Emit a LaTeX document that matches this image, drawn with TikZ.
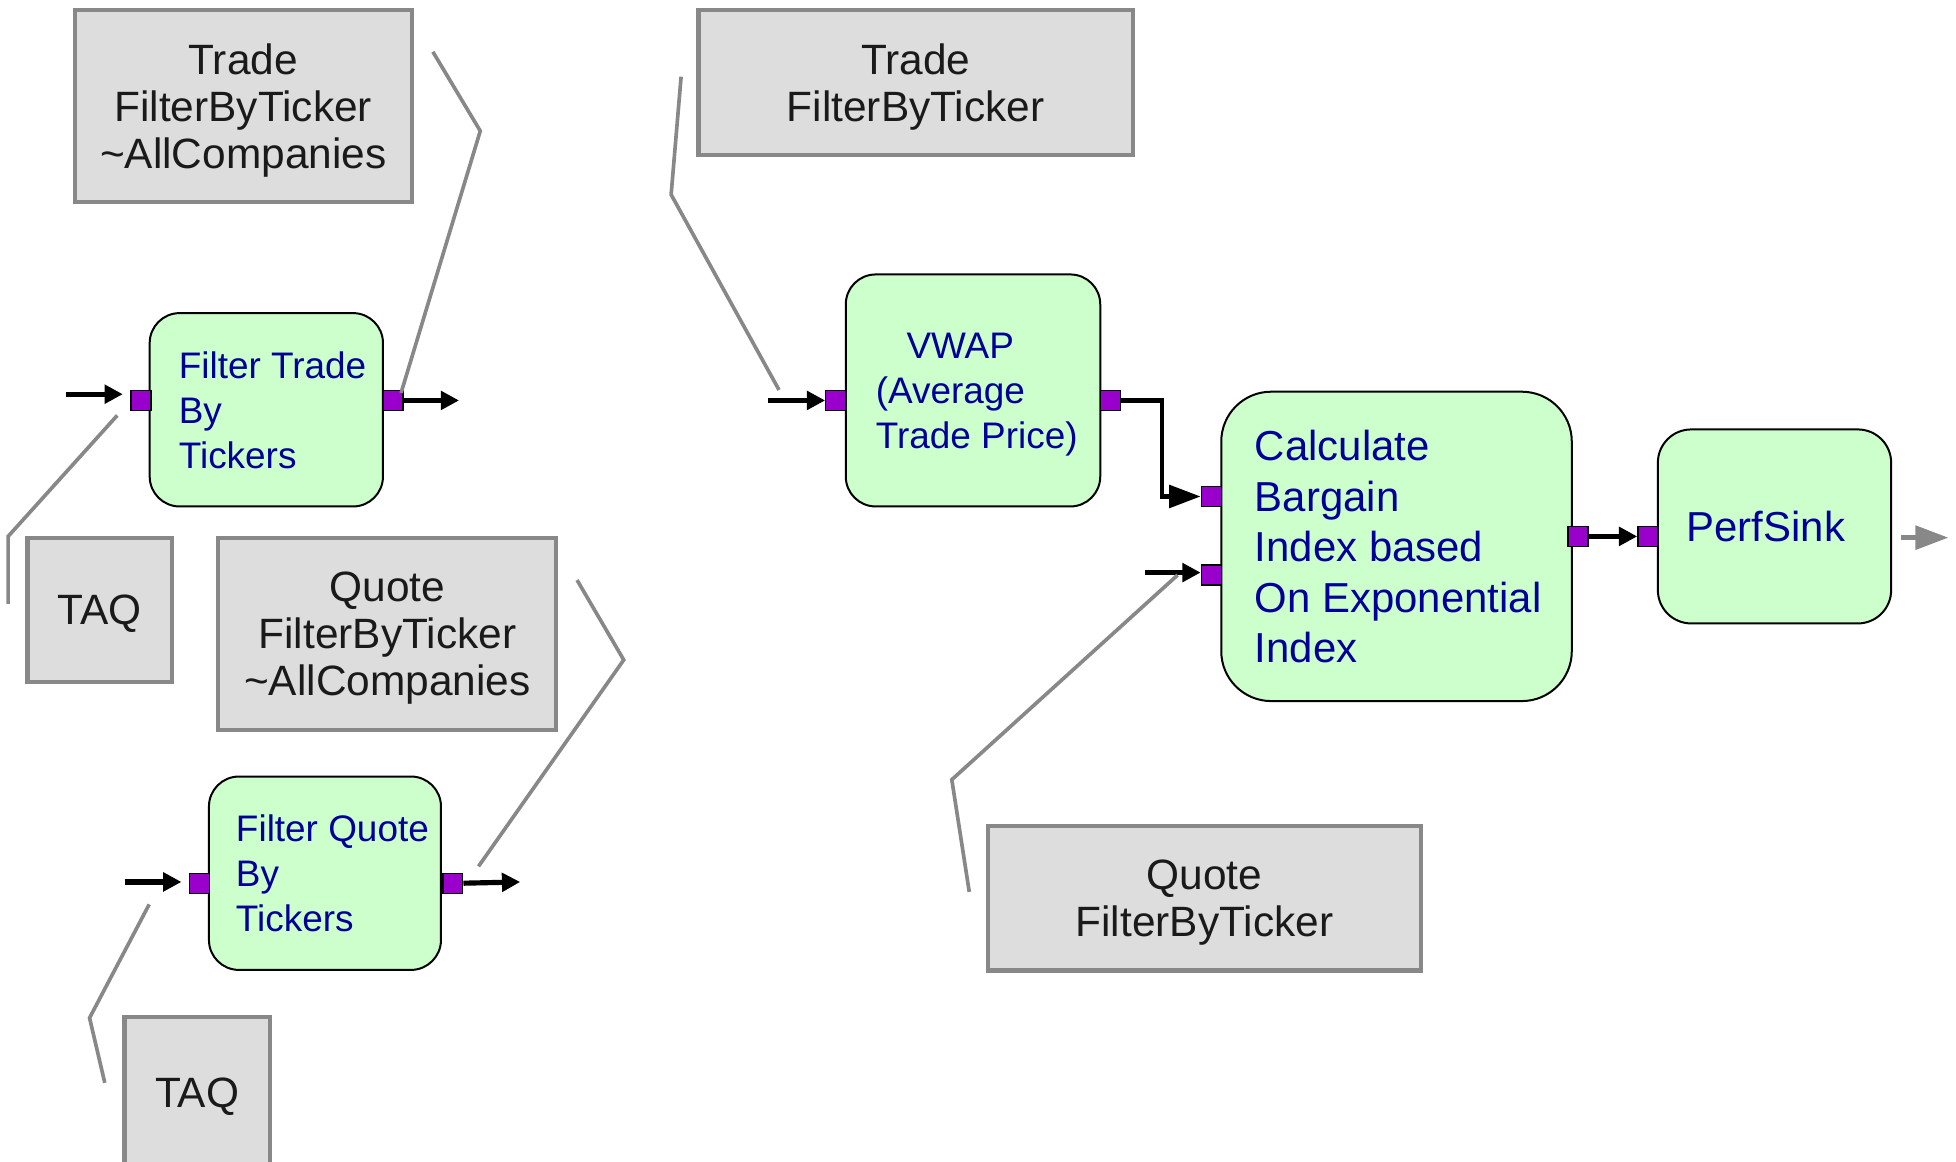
\documentclass[tikz,border=0pt]{standalone}
\usepackage{fontspec}
\setmainfont{Liberation Sans}
\usetikzlibrary{arrows.meta,calc}
\definecolor{boxgray}{HTML}{DDDDDD}
\definecolor{edgegray}{HTML}{888888}
\definecolor{opgreen}{HTML}{CCFFCC}
\definecolor{opblue}{HTML}{000099}
\definecolor{portpurple}{HTML}{9900CC}
\definecolor{inkdark}{HTML}{1A1A1A}
\tikzset{
  wh/.style 2 args={minimum width=#1*0.75pt, minimum height=#2*0.75pt},
  graybox/.style={draw=edgegray, line width=2.5pt, fill=boxgray, text=inkdark,
    align=center, font=\fontsize{25.5}{28.1}\selectfont, text depth=0pt, inner sep=0pt},
  opbox/.style={draw=black, line width=1.2pt, fill=opgreen, rounded corners=18pt,
    text=opblue, align=left, text depth=0pt, inner sep=0pt},
  opsmall/.style={font=\fontsize{22.2}{27}\selectfont, text depth=-2.4pt},
  oplarge/.style={font=\fontsize{25.2}{30.4}\selectfont},
  port/.style={draw=black, line width=0.8pt, fill=portpurple, minimum size=12pt, inner sep=0pt},
  flow/.style={line width=3.1pt, -{Triangle[length=11pt,width=11pt]}},
  bigflow/.style={line width=2.8pt, -{Triangle[length=19pt,width=13.5pt]}},
  sinkflow/.style={draw=edgegray, line width=3.2pt, -{Triangle[length=20pt,width=14pt]}},
  callout/.style={draw=edgegray, line width=2.2pt},
}
% indentation that moves a left-aligned text block inside its box
\newcommand{\indl}[1]{\hspace*{#1}}
\begin{document}
\begin{tikzpicture}[x=0.75pt, y=-0.75pt]
\useasboundingbox (0,0) rectangle (1568,931);

% stream descriptions
\node[graybox, wh={270}{154}] (tradeAll) at (195,85) {Trade\\FilterByTicker\\\textasciitilde AllCompanies};
\node[graybox, wh={116}{116}] (taqA) at (80,489) {TAQ};
\node[graybox, wh={271}{154}] (quoteAll) at (310.5,508) {Quote\\FilterByTicker\\\textasciitilde AllCompanies};
\node[graybox, wh={116.5}{122}] (taqB) at (158,876) {TAQ};
\node[graybox, wh={348}{116.5}] (tradeOne) at (734,66) {Trade\\FilterByTicker};
\node[graybox, wh={347}{116}] (quoteOne) at (965.5,720) {Quote\\FilterByTicker};

% operators
\node[opbox, opsmall, wh={187}{155}] (ft) at (213.5,328.5)
  {\indl{7.5pt}Filter Trade\\\indl{7.5pt}By\\\indl{7.5pt}Tickers};
\node[opbox, opsmall, wh={186}{155}] (fq) at (260.5,700)
  {\indl{9pt}Filter Quote\\\indl{9pt}By\\\indl{9pt}Tickers};
\node[opbox, opsmall, wh={204}{186}] (vwap) at (780,313)
  {\indl{4.5pt}\hspace*{0.83em}VWAP\\\indl{4.5pt}(Average\\\indl{4.5pt}Trade Price)};
\node[opbox, oplarge, wh={281}{248}, rounded corners=30pt] (calc) at (1119.5,438)
  {\indl{2pt}Calculate\\\indl{2pt}Bargain\\\indl{2pt}Index based\\\indl{2pt}On Exponential\\\indl{2pt}Index};
\node[opbox, oplarge, wh={187}{155.5}, rounded corners=20pt] (perf) at (1422.5,422)
  {PerfSink\indl{10.5pt}};

% free ends of the stream arrows
\coordinate (ftSrc) at (53,316);
\coordinate (ftDst) at (368,321);
\coordinate (fqSrc) at (100,707);
\coordinate (fqDst) at (417,707);
\coordinate (vwapSrc) at (616,321);
\coordinate (calcSrc) at (918,459);
\coordinate (sinkFrom) at (1524,431);
\coordinate (sinkTo) at (1562,431);

% ports
\node[port] (ftIn) at (113,321) {};
\node[port] (ftOut) at (315,321) {};
\node[port] (fqIn) at (160,708) {};
\node[port] (fqOut) at (363,708) {};
\node[port] (vwapIn) at (670,321) {};
\node[port] (vwapOut) at (890,321) {};
\node[port] (calcInA) at (971,398) {};
\node[port] (calcInB) at (971,461) {};
\node[port] (calcOut) at (1265,430) {};
\node[port] (perfIn) at (1321,430) {};

% streams
\draw[flow, shorten >=4.5pt] (ftSrc) -- (ftSrc -| ftIn.west);
\draw[flow] (ftOut.east) -- (ftDst);
\draw[flow, shorten >=4.5pt] (fqSrc) -- (fqSrc -| fqIn.west);
\draw[flow] (fqOut.east) -- (fqDst);
\draw[flow] (vwapSrc) -- (vwapIn.west);
\draw[bigflow] (vwapOut.east) -- ++(33,0) |- (calcInA.west);
\draw[flow] (calcSrc) -- (calcSrc -| calcInB.west);
\draw[flow] (calcOut.east) -- (perfIn.west);
\draw[sinkflow] (sinkFrom) -- (sinkTo);

% callout leaders
\coordinate (kA1) at (347,41.5);   \coordinate (kA2) at (385,105);   \coordinate (kA3) at (321.5,315);
\coordinate (kB1) at (94,333);     \coordinate (kB2) at (6.5,430);   \coordinate (kB3) at (6.5,484);
\coordinate (kC1) at (462.6,465);  \coordinate (kC2) at (500,529);   \coordinate (kC3) at (383.6,694.5);
\coordinate (kD1) at (119.6,725);  \coordinate (kD2) at (71.8,816);  \coordinate (kD3) at (84,868);
\coordinate (kE1) at (546,61.5);   \coordinate (kE2) at (538,156);   \coordinate (kE3) at (624.5,312.6);
\coordinate (kF1) at (777,715);    \coordinate (kF2) at (763,625);   \coordinate (kF3) at (944,461);
\draw[callout] (kA1) -- (kA2) -- (kA3);
\draw[callout] (kB1) -- (kB2) -- (kB3);
\draw[callout] (kC1) -- (kC2) -- (kC3);
\draw[callout] (kD1) -- (kD2) -- (kD3);
\draw[callout] (kE1) -- (kE2) -- (kE3);
\draw[callout] (kF1) -- (kF2) -- (kF3);
\end{tikzpicture}
\end{document}
